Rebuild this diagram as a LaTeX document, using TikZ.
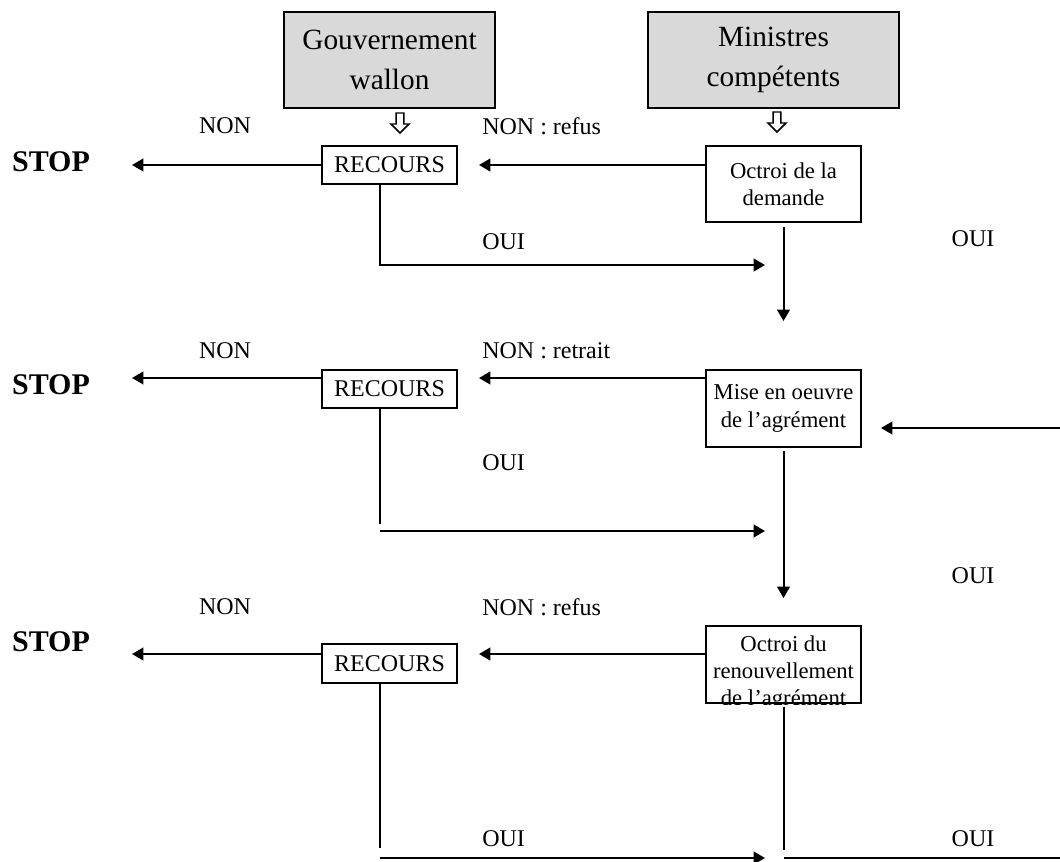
\documentclass[tikz,border=0pt]{standalone}
\usepackage{fontspec}
\setmainfont{Liberation Serif}
\usetikzlibrary{arrows.meta}
\definecolor{boxgray}{HTML}{D9D9D9}

\begin{document}
\begin{tikzpicture}[x=0.75pt,y=-0.75pt,
  ln/.style={line width=1.5pt},
  arr/.style={ln,-{Triangle[length=8.5pt,width=9.5pt]}},
  lbl/.style={font=\fontsize{18}{21}\selectfont,inner sep=0pt},
  stoplbl/.style={font=\fontsize{22.5}{26}\selectfont\bfseries,inner sep=0pt},
  head/.style={draw,line width=1.5pt,fill=boxgray,align=center,inner sep=0pt,
    font=\fontsize{22}{30}\selectfont,minimum height=72pt},
  recbox/.style={draw,line width=1.5pt,inner sep=0pt,font=\fontsize{18}{21}\selectfont,
    minimum width=101.25pt,minimum height=28.5pt},
  procbox/.style={draw,line width=1.5pt,align=center,inner sep=0pt,
    font=\fontsize{17}{20.5}\selectfont,minimum width=116.25pt,minimum height=57pt},
  hollowdown/.pic={\draw[line width=1.1pt,fill=white]
    (-3.8,0) -- (-3.8,11) -- (-9,11) -- (0,20) -- (9,11) -- (3.8,11) -- (3.8,0) -- cycle;}
]
\useasboundingbox (0,0) rectangle (1060,861);

% deciding bodies
\node[head,minimum width=158.25pt] (gw) at (389.5,60) {Gouvernement\\wallon};
\node[head,minimum width=188.25pt] (mc) at (773.5,60) {Ministres\\compétents};
\pic at (400,113) {hollowdown};
\pic at (777,112) {hollowdown};

% appeal boxes
\node[recbox] (rec1) at (389.5,165) {RECOURS};
\node[recbox] (rec2) at (389.5,389) {RECOURS};
\node[recbox,minimum height=29.25pt] (rec3) at (389.5,663.5) {RECOURS};

% procedure steps
\node[procbox] (oct) at (783.5,184) {Octroi de la\\demande};
\node[procbox,minimum height=57.75pt] (mise) at (783.5,408.5) {Mise en oeuvre\\de l’agrément};
\node[procbox,minimum height=57.75pt] (ren) at (783.5,664.5) {};
\begin{scope}
  \clip (ren.north west) rectangle (ren.south east);
  \node[procbox,draw=none,minimum width=0pt,minimum height=0pt,anchor=base] (ren1) at (783.5,651) {Octroi du};
  \node[procbox,draw=none,minimum width=0pt,minimum height=0pt,anchor=base] (ren2) at (783.5,678) {renouvellement};
  \node[procbox,draw=none,minimum width=0pt,minimum height=0pt,anchor=base] (ren3) at (783.5,705) {de l’agrément};
\end{scope}

% STOP outcomes
\node[stoplbl] (stop1) at (51,162) {STOP};
\node[stoplbl] (stop2) at (51,385) {STOP};
\node[stoplbl] (stop3) at (51,642) {STOP};

% labels
\node[lbl] (n1) at (225,126) {NON};
\node[lbl] (n2) at (225,351) {NON};
\node[lbl] (n3) at (225,607) {NON};
\node[lbl,anchor=west] (nr1) at (482,126) {NON : refus};
\node[lbl,anchor=west] (nr2) at (482,351) {NON : retrait};
\node[lbl,anchor=west] (nr3) at (482,607) {NON : refus};
\node[lbl,anchor=west] (o1) at (482,242) {OUI};
\node[lbl,anchor=west] (o2) at (482,463) {OUI};
\node[lbl,anchor=west] (o3) at (482,839) {OUI};
\node[lbl] (or1) at (973,239) {OUI};
\node[lbl] (or2) at (973,576) {OUI};
\node[lbl] (or3) at (973,839) {OUI};

% free ends
\coordinate (s1) at (132,165);
\coordinate (s2) at (132,378);
\coordinate (s3) at (132,654);
\coordinate (c1) at (380,265);
\coordinate (t1) at (765,265);
\coordinate (c2a) at (380,524);
\coordinate (c2) at (380,531);
\coordinate (t2) at (765,531);
\coordinate (c3a) at (380,848);
\coordinate (c3) at (380,858);
\coordinate (t3) at (765,858);
\coordinate (j1) at (783.5,321);
\coordinate (j2) at (783.5,598);
\coordinate (j3) at (783.5,850);
\coordinate (j3b) at (783.5,858);
\coordinate (out3) at (1060,858);
\coordinate (back) at (1060,428);

% row 1
\draw[arr] (rec1.west) -- (s1);
\draw[arr] (oct.west |- rec1.east) -- ([xshift=15.75pt]rec1.east);
\draw[arr] (rec1.south -| c1) -- (c1) -- (t1);
\draw[arr] ([yshift=-3pt]oct.south) -- (j1);

% row 2
\draw[arr] (rec2.west |- s2) -- (s2);
\draw[arr] (mise.west |- s2) -- ([xshift=15.75pt]rec2.east |- s2);
\draw[ln] (rec2.south -| c2a) -- (c2a);
\draw[arr] (c2) -- (t2);
\draw[arr] ([yshift=-2.25pt]mise.south) -- (j2);
\draw[arr] (back) -- ([xshift=14.25pt]mise.east |- back);

% row 3
\draw[arr] (rec3.west |- s3) -- (s3);
\draw[arr] (ren.west |- s3) -- ([xshift=15.75pt]rec3.east |- s3);
\draw[ln] (rec3.south -| c3a) -- (c3a);
\draw[arr] (c3) -- (t3);
\draw[ln] ([yshift=-2.25pt]ren.south) -- (j3);
\draw[ln] (j3b) -- (out3);
\end{tikzpicture}
\end{document}
